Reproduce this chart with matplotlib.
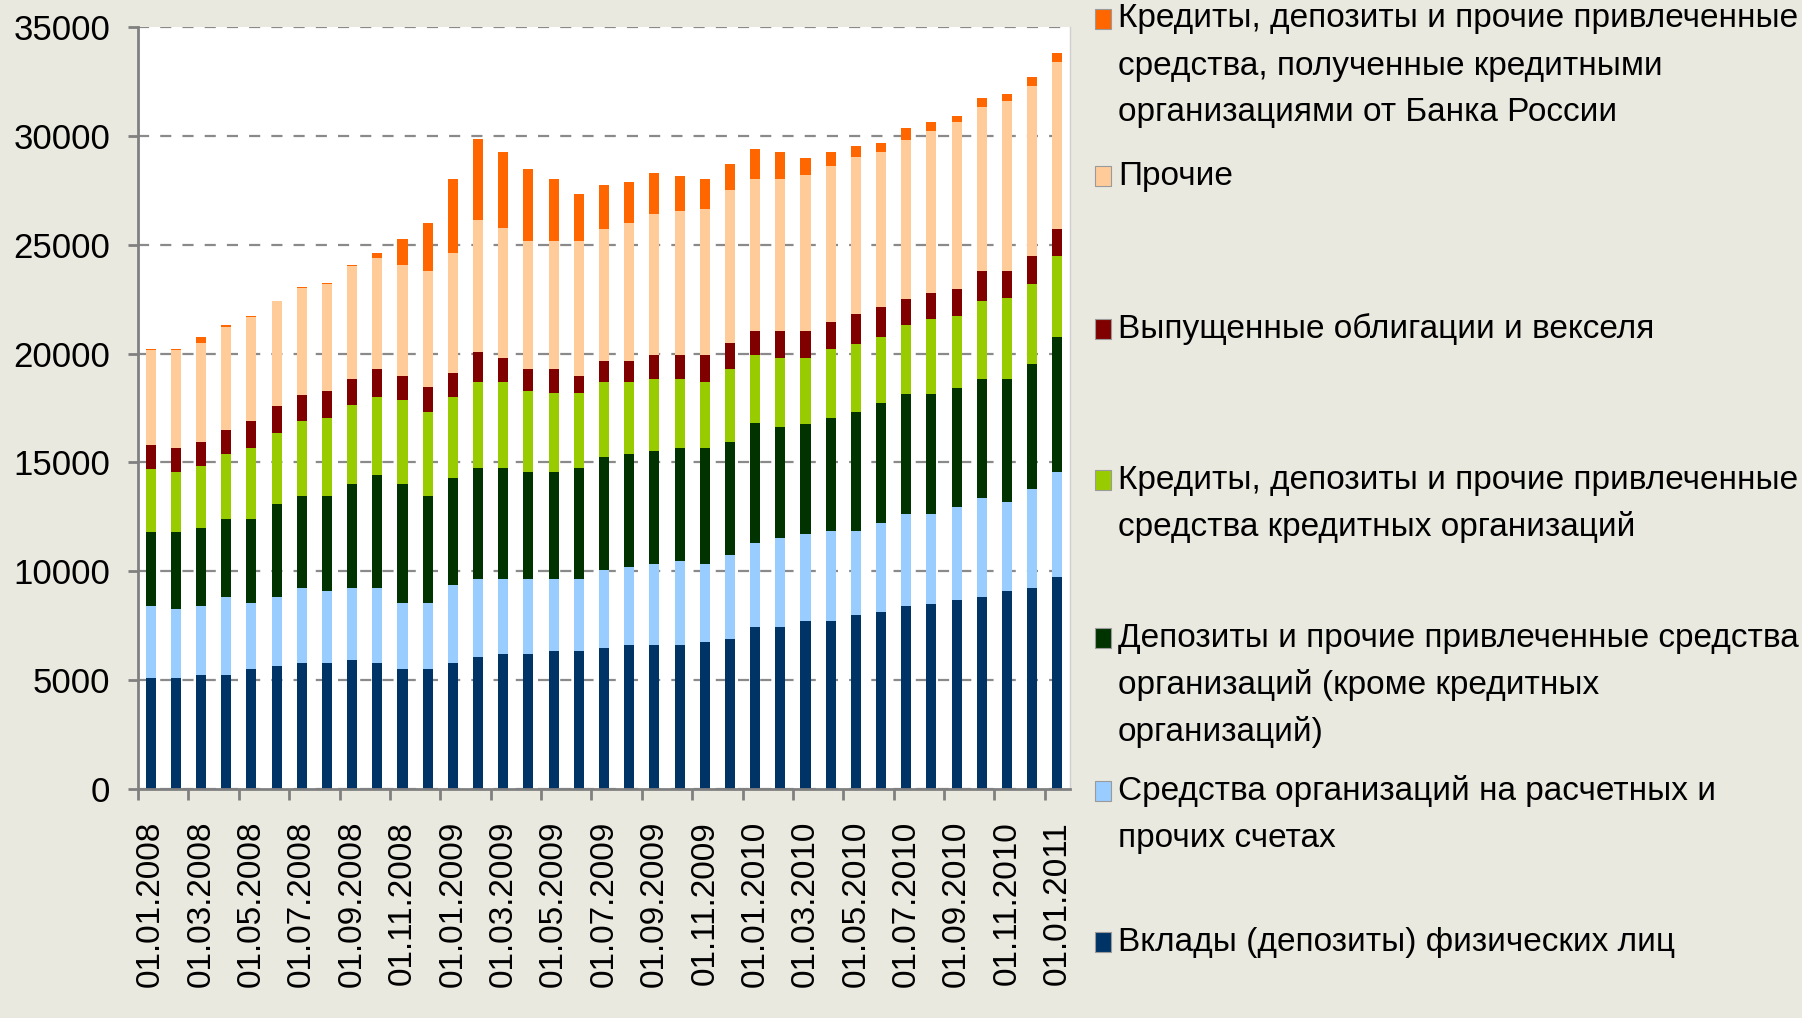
import numpy as np
import pandas as pd
import matplotlib
matplotlib.use("Agg")
import matplotlib.pyplot as plt
from matplotlib.patches import Rectangle

plt.rcParams['font.family'] = ['Liberation Sans', 'DejaVu Sans']

# months 01.01.2008 .. 01.01.2011
dates = pd.date_range('2008-01-01', '2011-01-01', freq='MS').strftime('%d.%m.%Y').tolist()

# values, bn rub
vklady = [5080, 5080, 5230, 5230, 5510, 5650, 5770, 5770, 5920, 5770, 5510, 5510, 5770,
          6080, 6200, 6200, 6340, 6340, 6460, 6610, 6610, 6610, 6730, 6890, 7420, 7420,
          7710, 7710, 7990, 8110, 8400, 8520, 8680, 8800, 9090, 9210, 9750]
raschet = [3320, 3180, 3170, 3570, 3050, 3150, 3440, 3320, 3290, 3440, 3050, 3050, 3600,
           3550, 3430, 3430, 3290, 3290, 3600, 3570, 3720, 3860, 3600, 3860, 3860, 4130,
           3990, 4150, 3870, 4130, 4250, 4130, 4250, 4550, 4100, 4550, 4820]
depozity_org = [3410, 3550, 3570, 3580, 3830, 4270, 4250, 4380, 4810, 5200, 5460, 4910, 4930,
                5100, 5100, 4940, 4940, 5100, 5200, 5200, 5190, 5200, 5340, 5200, 5510, 5080,
                5080, 5190, 5460, 5490, 5480, 5480, 5510, 5460, 5620, 5750, 6170]
kredity_ko = [2910, 2760, 2880, 3030, 3290, 3290, 3440, 3580, 3610, 3600, 3840, 3860, 3720,
              3980, 3980, 3720, 3600, 3440, 3440, 3320, 3290, 3140, 3030, 3320, 3140, 3170,
              3020, 3180, 3140, 3030, 3170, 3440, 3280, 3600, 3750, 3700, 3730]
obligacii = [1070, 1100, 1100, 1070, 1240, 1240, 1220, 1220, 1220, 1260, 1100, 1120, 1100,
             1380, 1100, 980, 1100, 800, 960, 960, 1120, 1120, 1220, 1230, 1100, 1220,
             1220, 1230, 1380, 1380, 1220, 1220, 1240, 1380, 1230, 1260, 1230]
prochie = [4360, 4490, 4520, 4740, 4750, 4810, 4900, 4940, 5160, 5100, 5100, 5360, 5480,
           6050, 5940, 5910, 5910, 6210, 6080, 6340, 6470, 6610, 6730, 7010, 7010, 7010,
           7160, 7150, 7190, 7120, 7300, 7420, 7680, 7540, 7820, 7810, 7700]
bank_rossii = [80, 60, 310, 80, 60, 20, 60, 20, 80, 230, 1220, 2170, 3440,
               3700, 3520, 3280, 2860, 2170, 1990, 1880, 1900, 1620, 1350, 1190, 1350, 1220,
               800, 660, 510, 410, 540, 410, 280, 430, 290, 430, 410]

# bottom to top
series = [vklady, raschet, depozity_org, kredity_ko, obligacii, prochie, bank_rossii]
colors = ['#003366', '#99ccff', '#003300', '#99cc00', '#800000', '#ffcc99', '#ff6600']
labels = [
    ['Вклады (депозиты) физических лиц'],
    ['Средства организаций на расчетных и', 'прочих счетах'],
    ['Депозиты и прочие привлеченные средства', 'организаций (кроме кредитных', 'организаций)'],
    ['Кредиты, депозиты и прочие привлеченные', 'средства кредитных организаций'],
    ['Выпущенные облигации и векселя'],
    ['Прочие'],
    ['Кредиты, депозиты и прочие привлеченные', 'средства, полученные кредитными',
     'организациями от Банка России'],
]

W, H = 1802, 1018
bg = '#eae9e0'
fig = plt.figure(figsize=(W / 100, H / 100), dpi=100, facecolor=bg)
ax = fig.add_axes([138 / W, 1 - 789 / H, (1070 - 138) / W, (789 - 27) / H])
ax.set_facecolor('white')

x = np.arange(len(dates))
bottom = np.zeros(len(dates))
for vals, c in zip(series, colors):
    vals = np.array(vals)
    ax.bar(x, vals, bottom=bottom, width=0.4, color=c, linewidth=0, zorder=2)
    bottom += vals

ax.set_xlim(-0.5, len(dates) - 0.5)
ax.set_ylim(0, 35000)
ax.set_yticks(np.arange(0, 35001, 5000))
ax.yaxis.grid(True, color='#8a8a8a', linestyle=(0, (5, 5)), linewidth=1.6, zorder=1)
ax.set_axisbelow(True)

# ticks between categories, labels on every other bar
ax.set_xticks(np.arange(-0.5, len(dates) - 1, 2))
ax.set_xticklabels([])
ax.set_xticks(x[::2], minor=True)
ax.set_xticklabels(dates[::2], minor=True, rotation=90, va='top', ha='center', fontsize=24)
ax.tick_params(axis='x', which='major', length=8, width=2, color='#808080')
ax.tick_params(axis='x', which='minor', length=0, pad=23)
ax.tick_params(axis='y', length=7, width=2, color='#808080', labelsize=25, pad=13)

for s in ['left', 'bottom']:
    ax.spines[s].set_color('#808080')
    ax.spines[s].set_linewidth(2)
ax.spines['top'].set_visible(False)
ax.spines['right'].set_color('#cfcfcf')
ax.spines['right'].set_linewidth(1)

# legend, top to bottom
leg_y = [19, 176, 329, 480, 638, 791, 942]
line_h = 47
for yy, c, lab in zip(leg_y, colors[::-1], labels[::-1]):
    fig.patches.append(Rectangle((1095 / W, 1 - (yy + 10) / H), 16 / W, 20 / H,
                                 transform=fig.transFigure, facecolor=c,
                                 edgecolor='#9a9a9a', linewidth=0.8))
    for k, line in enumerate(lab):
        fig.text(1118 / W, 1 - (yy + k * line_h) / H, line, fontsize=24,
                 va='center', ha='left', color='black')

fig.savefig('out.png', dpi=100, facecolor=bg)
